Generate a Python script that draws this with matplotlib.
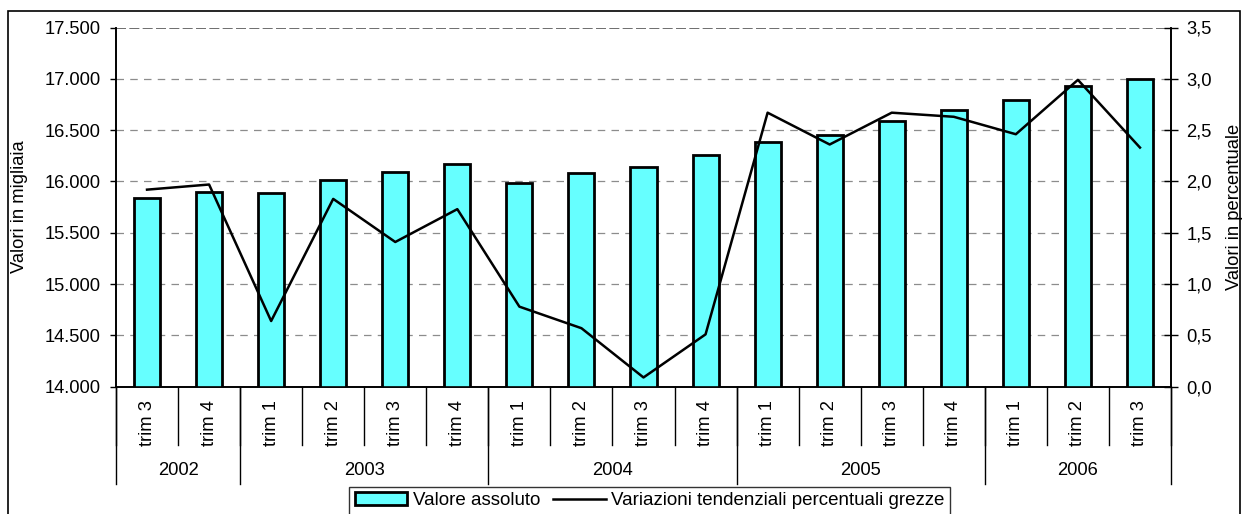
import matplotlib.pyplot as plt
import matplotlib.transforms as mtransforms
from matplotlib.patches import Rectangle
from matplotlib.ticker import FuncFormatter

plt.rcParams['font.family'] = ['Liberation Sans', 'DejaVu Sans']
FS = 13.2

anni = ['2002', '2003', '2004', '2005', '2006']
trimestri = ['trim 3', 'trim 4',
             'trim 1', 'trim 2', 'trim 3', 'trim 4',
             'trim 1', 'trim 2', 'trim 3', 'trim 4',
             'trim 1', 'trim 2', 'trim 3', 'trim 4',
             'trim 1', 'trim 2', 'trim 3']
trim_per_anno = [2, 4, 4, 4, 3]

# valori assoluti (migliaia)
valore_assoluto = [15840, 15893, 15887, 16011, 16089, 16167,
                   15987, 16082, 16143, 16257,
                   16384, 16452, 16592, 16693,
                   16793, 16927, 17001]
# variazioni tendenziali percentuali grezze
variazioni = [1.92, 1.97, 0.64, 1.83, 1.41, 1.73,
              0.78, 0.57, 0.09, 0.51,
              2.67, 2.36, 2.67, 2.63,
              2.46, 2.99, 2.33]

fig = plt.figure(figsize=(12.42, 5.14), dpi=100)
ax = fig.add_axes([116 / 1242, 1 - 386.7 / 514, (1171 - 116) / 1242, 359.2 / 514])
ax2 = ax.twinx()

x = list(range(len(trimestri)))
ax.bar(x, valore_assoluto, width=0.42, color='#66FFFF', edgecolor='black',
       linewidth=2, zorder=3, label='Valore assoluto')
ax2.plot(x, variazioni, color='black', linewidth=1.8, zorder=4,
         label='Variazioni tendenziali percentuali grezze')

ax.set_xlim(-0.5, len(trimestri) - 0.5)
ax.set_ylim(14000, 17500)
ax.set_yticks(range(14000, 17501, 500))
ax.yaxis.set_major_formatter(FuncFormatter(lambda v, p: f'{int(v):,}'.replace(',', '.')))
ax2.set_ylim(0, 3.5)
ax2.set_yticks([i * 0.5 for i in range(8)])
ax2.yaxis.set_major_formatter(FuncFormatter(lambda v, p: f'{v:.1f}'.replace('.', ',')))

for y in range(14500, 17001, 500):
    ax.axhline(y, color='#8c8c8c', linestyle=(0, (6, 5)), linewidth=0.9, zorder=1)
ax.axhline(17500, color='#555555', linestyle=(0, (6, 2)), linewidth=1.2, zorder=1)

for a in (ax, ax2):
    a.spines['top'].set_visible(False)
    a.spines['left'].set_linewidth(1.2)
    a.spines['right'].set_linewidth(1.2)
    a.spines['bottom'].set_linewidth(1.2)
    a.tick_params(labelsize=FS, width=1)
ax.tick_params(axis='y', length=4.5, pad=6.5)
ax2.tick_params(axis='y', direction='inout', length=10, pad=6)
ax.tick_params(axis='x', bottom=False, labelbottom=False)
ax.set_ylabel('Valori in migliaia', fontsize=FS, labelpad=12)
ax2.set_ylabel('Valori in percentuale', fontsize=FS, labelpad=10)

# etichette asse categorie a due livelli
tr = mtransforms.blended_transform_factory(ax.transData, ax.transAxes)
for i, t in enumerate(trimestri):
    ax.text(i, -0.102, t, rotation=90, ha='center', va='center',
            fontsize=FS, transform=tr)
for i in range(len(trimestri) + 1):
    ax.plot([i - 0.5, i - 0.5], [0, -0.162], color='black', linewidth=1,
            transform=tr, clip_on=False)

inizio = 0
confini = [0]
for anno, n in zip(anni, trim_per_anno):
    ax.text(inizio + n / 2 - 0.5, -0.232, anno, ha='center', va='center',
            fontsize=FS, transform=tr)
    inizio += n
    confini.append(inizio)
for c in confini:
    ax.plot([c - 0.5, c - 0.5], [0, -0.27], color='black', linewidth=1,
            transform=tr, clip_on=False)

h1, l1 = ax.get_legend_handles_labels()
h2, l2 = ax2.get_legend_handles_labels()
leg = fig.legend(h1 + h2, l1 + l2, loc='upper left',
                 bbox_to_anchor=(349 / 1242, 1 - 486.5 / 514), ncol=2,
                 fontsize=13.5, frameon=True, fancybox=False, shadow=False,
                 borderpad=0.3, handlelength=2.8, handletextpad=0.3,
                 columnspacing=0.7, borderaxespad=0)
leg.get_frame().set_edgecolor('black')
leg.get_frame().set_linewidth(1)

fig.patches.append(Rectangle((8 / 1242, -0.05), (1240 - 8) / 1242, 1.05 - 11.3 / 514,
                             transform=fig.transFigure, fill=False,
                             edgecolor='black', linewidth=1.2))

fig.savefig('out.png', dpi=100)
